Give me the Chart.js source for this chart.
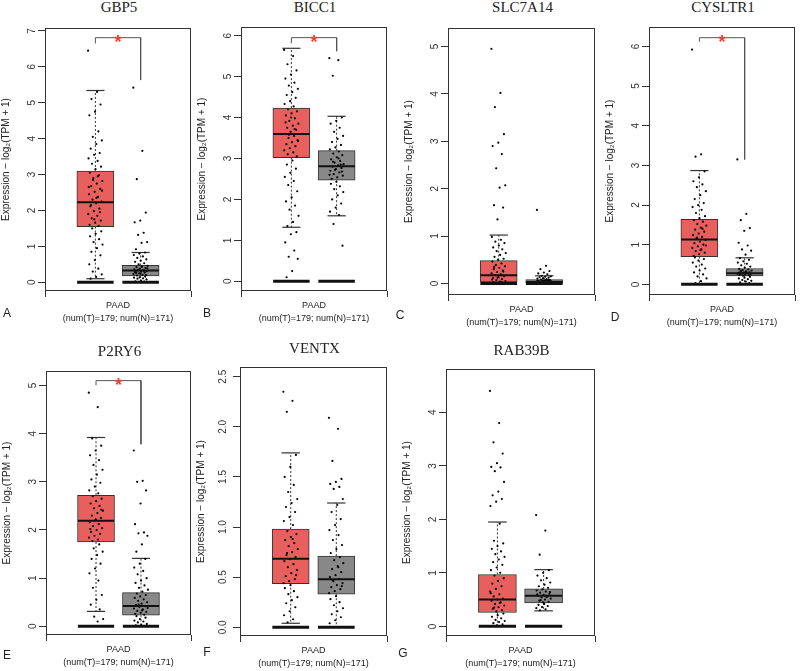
<!DOCTYPE html>
<html>
<head>
<meta charset="utf-8">
<script src="https://cdn.jsdelivr.net/npm/chart.js@4.4.1/dist/chart.umd.min.js"></script>
<style>
  body { margin:0; background:#fff; width:800px; height:671px; position:relative; overflow:hidden; font-family:"Liberation Sans", Arial, sans-serif; }
  canvas { position:absolute; }
  .gene { position:absolute; font-family:"Liberation Serif", "DejaVu Serif", serif; font-size:15px; color:#222; transform:translate(-50%,-50%); white-space:nowrap; }
  .letter { position:absolute; font-size:12px; color:#222; transform:translate(-50%,-50%); }
</style>
</head>
<body>
<script>
const genes = ['GBP5', 'BICC1', 'SLC7A14', 'CYSLTR1', 'P2RY6', 'VENTX', 'RAB39B'];
const panelLetters = ['A', 'B', 'C', 'D', 'E', 'F', 'G'];
const cancerLabel = ['PAAD', '(num(T)=179; num(N)=171)'];

// [lower whisker, Q1, median, Q3, upper whisker]
const tumorBox = [
    [0.10, 1.55, 2.23, 3.10, 5.34],
    [1.32, 3.02, 3.60, 4.23, 5.69],
    [0, 0.03, 0.17, 0.48, 1.02],
    [0, 0.70, 1.13, 1.64, 2.87],
    [0.31, 1.75, 2.19, 2.72, 3.92],
    [0.04, 0.435, 0.685, 0.98, 1.74],
    [0, 0.26, 0.50, 0.97, 1.95]
];
const normalBox = [
    [0, 0.18, 0.33, 0.47, 0.83],
    [1.60, 2.47, 2.81, 3.19, 4.03],
    [0, 0, 0.03, 0.08, 0.16],
    [0, 0.21, 0.28, 0.40, 0.67],
    [0, 0.23, 0.42, 0.70, 1.41],
    [0, 0.33, 0.48, 0.71, 1.24],
    [0.29, 0.44, 0.57, 0.70, 1.06]
];
// significance bracket: [tumor foot, bar level, normal foot]
const sigBracket = [[6.65, 6.81, 5.63], [5.81, 5.95, 5.62], null, [6.12, 6.22, 3.15], [5.00, 5.10, 3.78], null, null];

const yTicks = [
    [0, 1, 2, 3, 4, 5, 6, 7],
    [0, 1, 2, 3, 4, 5, 6],
    [0, 1, 2, 3, 4, 5],
    [0, 1, 2, 3, 4, 5, 6],
    [0, 1, 2, 3, 4, 5],
    [0, 0.5, 1, 1.5, 2, 2.5],
    [0, 1, 2, 3, 4]
];
const yRange = [[-0.242, 7.08], [-0.236, 6.21], [-0.245, 5.39], [-0.268, 6.49], [-0.18, 5.30], [-0.087, 2.597], [-0.18, 4.81]];

// expression values
const gbp5T = [6.45, 5.3, 5.1, 4.95, 4.75, 4.65, 4.2, 4.05, 3.95, 3.85, 3.72, 3.6, 3.55, 3.45, 3.38, 3.3, 3.22, 3.15,
    3.05, 2.98, 2.9, 2.82, 2.75, 2.68, 2.6, 2.52, 2.45, 2.38, 2.3, 2.25, 2.2, 2.12, 2.05, 1.98, 1.9, 1.85, 1.78, 1.72, 1.66, 1.6, 1.57,
    2.85, 2.55, 2.35, 2.15, 1.95, 1.75, 2.65, 2.95,
    1.5, 1.42, 1.35, 1.28, 1.2, 1.12, 1.05, 0.95, 0.85, 0.75, 0.62, 0.5, 0.38, 0.3, 0.22, 0.15, 0.1];
const gbp5N = [5.42, 3.66, 2.87, 1.94, 1.72, 1.67, 1.38, 1.32, 1.12, 1.1, 0.92,
    0.83, 0.8, 0.76, 0.72, 0.68, 0.64, 0.6, 0.57, 0.53, 0.5,
    0.46, 0.44, 0.42, 0.4, 0.38, 0.36, 0.34, 0.33, 0.31, 0.3, 0.29, 0.27, 0.25, 0.23, 0.21, 0.19, 0.2, 0.24, 0.28, 0.32, 0.35, 0.39, 0.43, 0.26,
    0.16, 0.14, 0.13, 0.11, 0.1, 0.08, 0.05, 0.03, 0.02];
const bicc1T = [5.65, 5.5, 5.3, 5.15, 5.05, 4.95, 4.85, 4.78, 4.7, 4.62, 4.55, 4.48, 4.4, 4.33, 4.27,
    4.2, 4.15, 4.1, 4.05, 3.98, 3.92, 3.85, 3.8, 3.75, 3.7, 3.65, 3.6, 3.55, 3.5, 3.45, 3.4, 3.35, 3.3, 3.25, 3.2, 3.15, 3.1, 3.05,
    4.0, 3.88, 3.72, 3.58, 3.42,
    2.95, 2.85, 2.75, 2.65, 2.55, 2.45, 2.35, 2.2, 2.05, 1.95, 1.85, 1.75, 1.6, 1.45, 1.35,
    1.2, 1.15, 0.95, 0.75, 0.6, 0.55, 0.25, 0.1];
const bicc1N = [5.45, 5.4, 5.02,
    4.0, 3.92, 3.85, 3.75, 3.65, 3.55, 3.48, 3.4, 3.33, 3.27, 3.22,
    3.17, 3.12, 3.08, 3.03, 2.98, 2.94, 2.9, 2.86, 2.83, 2.8, 2.77, 2.74, 2.7, 2.66, 2.62, 2.58, 2.54, 2.5, 2.85, 2.72, 2.6, 3.0, 2.92, 2.68,
    2.43, 2.38, 2.32, 2.25, 2.18, 2.1, 2.0, 1.9, 1.8, 1.7, 1.62,
    1.4, 0.87];
const slc7a14T = [4.95, 4.02, 3.72, 3.15, 2.97, 2.9, 2.73, 2.43, 2.07, 2.02, 1.65, 1.6, 1.35,
    0.98, 0.92, 0.88, 0.85, 0.8, 0.76, 0.72, 0.68, 0.64, 0.6, 0.56, 0.52, 0.5,
    0.46, 0.42, 0.39, 0.36, 0.33, 0.3, 0.27, 0.24, 0.21, 0.19, 0.17, 0.15, 0.13, 0.11, 0.09, 0.07, 0.05, 0.04, 0.35, 0.25, 0.12, 0.08,
    0.02, 0.01, 0, 0, 0.02, 0.01];
const slc7a14N = [1.55, 0.37, 0.3, 0.26, 0.23, 0.21, 0.19,
    0.16, 0.15, 0.14, 0.13, 0.12, 0.11, 0.1, 0.09, 0.08, 0.07, 0.06, 0.05, 0.05, 0.04, 0.04, 0.03, 0.03, 0.02, 0.02, 0.01, 0.01, 0, 0, 0, 0,
    0.07, 0.06, 0.05, 0.04, 0.03, 0.02, 0.02, 0.01, 0.01, 0.03, 0.04, 0.06];
const cysltr1T = [5.92, 3.28, 3.22,
    2.85, 2.7, 2.6, 2.52, 2.45, 2.35, 2.25, 2.15, 2.05, 2.0, 1.95, 1.88, 1.8, 1.72, 1.67,
    1.62, 1.58, 1.52, 1.48, 1.43, 1.38, 1.33, 1.28, 1.24, 1.2, 1.16, 1.12, 1.08, 1.04, 1.0, 0.96, 0.92, 0.88, 0.84, 0.8, 0.76, 0.72, 1.4, 1.18, 0.98, 0.86,
    0.68, 0.64, 0.6, 0.55, 0.5, 0.45, 0.4, 0.35, 0.3, 0.25, 0.2, 0.15, 0.08, 0.03];
const cysltr1N = [3.15, 1.78, 1.62, 1.42, 1.35, 1.05, 0.98, 0.88, 0.85, 0.75,
    0.66, 0.62, 0.58, 0.55, 0.52, 0.48, 0.45, 0.42,
    0.39, 0.38, 0.36, 0.35, 0.33, 0.32, 0.31, 0.3, 0.29, 0.28, 0.27, 0.26, 0.25, 0.24, 0.23, 0.22, 0.27, 0.3, 0.34,
    0.19, 0.17, 0.15, 0.13, 0.11, 0.09, 0.07, 0.05, 0.03];
const p2ry6T = [4.85, 4.55,
    3.9, 3.75, 3.65, 3.55, 3.45, 3.35, 3.25, 3.15, 3.05, 2.98, 2.9, 2.82, 2.76,
    2.7, 2.65, 2.6, 2.55, 2.5, 2.45, 2.4, 2.35, 2.3, 2.25, 2.2, 2.16, 2.12, 2.08, 2.04, 2.0, 1.96, 1.92, 1.88, 1.84, 1.8, 1.77, 2.42, 2.22, 2.02,
    1.7, 1.62, 1.55, 1.48, 1.4, 1.3, 1.2, 1.1, 0.95, 0.8, 0.65, 0.55, 0.45, 0.35,
    0.2, 0.15, 0.1];
const p2ry6N = [3.65, 3.02, 3.0, 2.82, 2.55, 2.12, 1.95, 1.93, 1.88, 1.7, 1.55,
    1.4, 1.3, 1.22, 1.15, 1.08, 1.0, 0.95, 0.9, 0.85, 0.8, 0.76, 0.72,
    0.68, 0.65, 0.62, 0.59, 0.56, 0.53, 0.5, 0.47, 0.44, 0.42, 0.4, 0.37, 0.35, 0.32, 0.3, 0.28, 0.26, 0.24, 0.45, 0.38, 0.33,
    0.21, 0.18, 0.15, 0.12, 0.1, 0.08, 0.05, 0.03, 0.02];
const ventxT = [2.35, 2.26, 2.15,
    1.72, 1.6, 1.5, 1.42, 1.35, 1.28, 1.24, 1.2, 1.15, 1.1, 1.06, 1.02,
    0.96, 0.93, 0.9, 0.87, 0.84, 0.81, 0.78, 0.75, 0.72, 0.7, 0.68, 0.66, 0.63, 0.6, 0.57, 0.54, 0.51, 0.48, 0.46, 0.44, 0.88, 0.74, 0.52,
    0.42, 0.39, 0.36, 0.33, 0.3, 0.27, 0.24, 0.2, 0.16, 0.12, 0.08, 0.05];
const ventxN = [2.09, 1.98, 1.66, 1.48, 1.45, 1.43, 1.4, 1.38, 1.28,
    1.22, 1.15, 1.08, 1.02, 0.97, 0.92, 0.87, 0.82, 0.78, 0.74,
    0.7, 0.67, 0.64, 0.61, 0.58, 0.55, 0.52, 0.5, 0.48, 0.46, 0.44, 0.42, 0.4, 0.38, 0.36, 0.34, 0.6, 0.47, 0.41,
    0.31, 0.28, 0.25, 0.22, 0.19, 0.16, 0.13, 0.1, 0.07, 0.04];
const rab39bT = [4.4, 3.8, 3.44, 3.23, 3.05, 2.98, 2.97, 2.9, 2.7, 2.52, 2.45, 2.38, 2.33, 2.25,
    1.92, 1.6, 1.55, 1.5, 1.45, 1.4, 1.35, 1.3, 1.25, 1.2, 1.15, 1.1, 1.05, 1.0,
    0.95, 0.9, 0.85, 0.8, 0.75, 0.7, 0.65, 0.6, 0.56, 0.52, 0.5, 0.48, 0.45, 0.42, 0.39, 0.36, 0.33, 0.3, 0.28, 0.62, 0.44, 0.35,
    0.24, 0.21, 0.18, 0.15, 0.12, 0.1, 0.08, 0.06, 0.04, 0.02];
const rab39bN = [2.08, 1.79, 1.34,
    1.05, 1.0, 0.95, 0.9, 0.86, 0.82, 0.78, 0.75, 0.72,
    0.69, 0.67, 0.65, 0.63, 0.61, 0.59, 0.57, 0.56, 0.54, 0.52, 0.5, 0.48, 0.46, 0.45, 0.6, 0.55, 0.49, 0.64,
    0.42, 0.4, 0.38, 0.36, 0.34, 0.32, 0.3];

const tumorPoints = [gbp5T, bicc1T, slc7a14T, cysltr1T, p2ry6T, ventxT, rab39bT];
const normalPoints = [gbp5N, bicc1N, slc7a14N, cysltr1N, p2ry6N, ventxN, rab39bN];

// plot frames in page pixels: left, top, right, bottom
const frames = [[45, 19, 193, 291], [241, 18, 389, 291], [448, 19, 597, 295], [649, 18, 797, 295],
    [46, 362, 193, 635], [240, 358, 389, 636], [446, 360, 597, 636]];
const titleY = [7, 7, 7, 7, 351, 348, 350];
const letterPos = [[7, 313], [207, 313], [400, 315], [615, 317], [7, 655], [207, 652], [403, 653]];

const TUMOR_X = -0.31, NORMAL_X = 0.31, HALF_BOX = 0.25, CAP = 0.125, JITTER = 0.1;
const AXIS_W = 45, AXIS_H = 34;
const RED = '#e8605d', GREY = '#888888', INK = '#333333';

function jitter(vals, cx) {
    return vals.map((v, i) => ({ x: cx + JITTER * (((i * 0.618034) % 1) * 2 - 1), y: v }));
}

function seg(x1, y1, x2, y2, extra) {
    return Object.assign({
        type: 'line', showLine: true, data: [{ x: x1, y: y1 }, { x: x2, y: y2 }],
        pointRadius: 0, borderColor: INK, borderWidth: 1, fill: false
    }, extra);
}

function boxParts(stats, cx) {
    const [lo, q1, med, q3, hi] = stats;
    return [
        seg(cx, q3, cx, hi, { borderDash: [2, 2], order: 8 }),
        seg(cx, q1, cx, lo, { borderDash: [2, 2], order: 8 }),
        seg(cx - CAP, hi, cx + CAP, hi, { borderWidth: 1.2, order: 8 }),
        seg(cx - CAP, lo, cx + CAP, lo, { borderWidth: 1.2, order: 8 }),
        seg(cx - HALF_BOX, med, cx + HALF_BOX, med, { borderWidth: 2, borderColor: '#111', order: 4 }),
        seg(cx - HALF_BOX, 0, cx + HALF_BOX, 0, { borderWidth: 3, borderColor: '#111', order: 3 })
    ];
}

const framePlugin = {
    id: 'frame',
    afterDatasetsDraw(chart) {
        const a = chart.chartArea, ctx = chart.ctx;
        ctx.save();
        ctx.strokeStyle = INK;
        ctx.lineWidth = 1;
        ctx.strokeRect(a.left + 0.5, a.top + 0.5, a.right - a.left - 1, a.bottom - a.top - 1);
        ctx.restore();
    }
};

const starPlugin = {
    id: 'star',
    afterDatasetsDraw(chart, args, opts) {
        if (!opts.level) return;
        const ctx = chart.ctx;
        const x = chart.scales.x.getPixelForValue((TUMOR_X + NORMAL_X) / 2);
        const y = chart.scales.y.getPixelForValue(opts.level);
        ctx.save();
        ctx.fillStyle = '#f0402f';
        ctx.font = 'bold 18px "Liberation Sans"';
        ctx.textAlign = 'center';
        ctx.textBaseline = 'middle';
        ctx.fillText('*', x, y + 5);
        ctx.restore();
    }
};

genes.forEach((gene, i) => {
    const [L, T, R, B] = frames[i];
    const cv = document.createElement('canvas');
    cv.width = (R - L) + AXIS_W + 2;
    cv.height = (B - T) + AXIS_H;
    cv.style.left = (L - AXIS_W) + 'px';
    cv.style.top = T + 'px';
    document.body.appendChild(cv);

    const title = document.createElement('div');
    title.className = 'gene';
    title.textContent = gene;
    title.style.left = ((L + R) / 2) + 'px';
    title.style.top = titleY[i] + 'px';
    document.body.appendChild(title);

    const letter = document.createElement('div');
    letter.className = 'letter';
    letter.textContent = panelLetters[i];
    letter.style.left = letterPos[i][0] + 'px';
    letter.style.top = letterPos[i][1] + 'px';
    document.body.appendChild(letter);

    const tb = tumorBox[i], nb = normalBox[i];
    const datasets = [
        {
            type: 'bar', grouped: false, order: 10,
            data: [{ x: TUMOR_X, y: [tb[1], tb[3]] }, { x: NORMAL_X, y: [nb[1], nb[3]] }],
            backgroundColor: [RED, GREY], borderColor: INK, borderWidth: 1, borderSkipped: false,
            barThickness: Math.round((R - L) * HALF_BOX)
        },
        ...boxParts(tb, TUMOR_X),
        ...boxParts(nb, NORMAL_X),
        { type: 'scatter', order: 6, data: jitter(tumorPoints[i], TUMOR_X), pointRadius: 1.1, pointBorderWidth: 0, backgroundColor: '#000' },
        { type: 'scatter', order: 6, data: jitter(normalPoints[i], NORMAL_X), pointRadius: 1.1, pointBorderWidth: 0, backgroundColor: '#000' }
    ];
    const sig = sigBracket[i];
    if (sig) {
        datasets.push({
            type: 'line', showLine: true, order: 2, pointRadius: 0, borderColor: '#555', borderWidth: 1, fill: false,
            data: [{ x: TUMOR_X, y: sig[0] }, { x: TUMOR_X, y: sig[1] }, { x: NORMAL_X, y: sig[1] }, { x: NORMAL_X, y: sig[2] }]
        });
    }

    new Chart(cv, {
        type: 'scatter',
        data: { datasets },
        options: {
            responsive: false,
            animation: false,
            devicePixelRatio: 1,
            layout: { padding: { left: 0, top: 0, right: 2, bottom: 0 } },
            plugins: { legend: { display: false }, tooltip: { enabled: false }, star: { level: sig ? sig[1] : null } },
            scales: {
                x: {
                    type: 'linear', min: -1, max: 1, offset: false,
                    afterBuildTicks: s => { s.ticks = [{ value: 0 }]; },
                    afterFit: s => { s.height = AXIS_H; },
                    ticks: { callback: () => '', padding: 0 },
                    grid: { display: true, drawOnChartArea: false, drawTicks: true, tickLength: 6, color: INK },
                    border: { display: false },
                    title: { display: true, text: cancerLabel, color: '#222', padding: 0, font: { family: 'Liberation Sans', size: 9, lineHeight: 1.45 } }
                },
                y: {
                    type: 'linear', min: yRange[i][0], max: yRange[i][1],
                    afterBuildTicks: s => { s.ticks = yTicks[i].map(v => ({ value: v })); },
                    afterFit: s => { s.width = AXIS_W; },
                    ticks: {
                        minRotation: 90, maxRotation: 90, crossAlign: 'center', padding: 3, color: INK,
                        font: { family: 'Liberation Sans', size: 10 },
                        callback: v => (i === 5 ? v.toFixed(1) : String(v))
                    },
                    grid: { display: true, drawOnChartArea: false, drawTicks: true, tickLength: 7, color: INK },
                    border: { display: false },
                    title: { display: true, text: 'Expression \u2212 log\u2082(TPM + 1)', color: '#222', padding: { top: 0, bottom: 0 }, font: { family: 'Liberation Sans', size: 10 } }
                }
            }
        },
        plugins: [framePlugin, starPlugin]
    });
});
</script>
</body>
</html>
